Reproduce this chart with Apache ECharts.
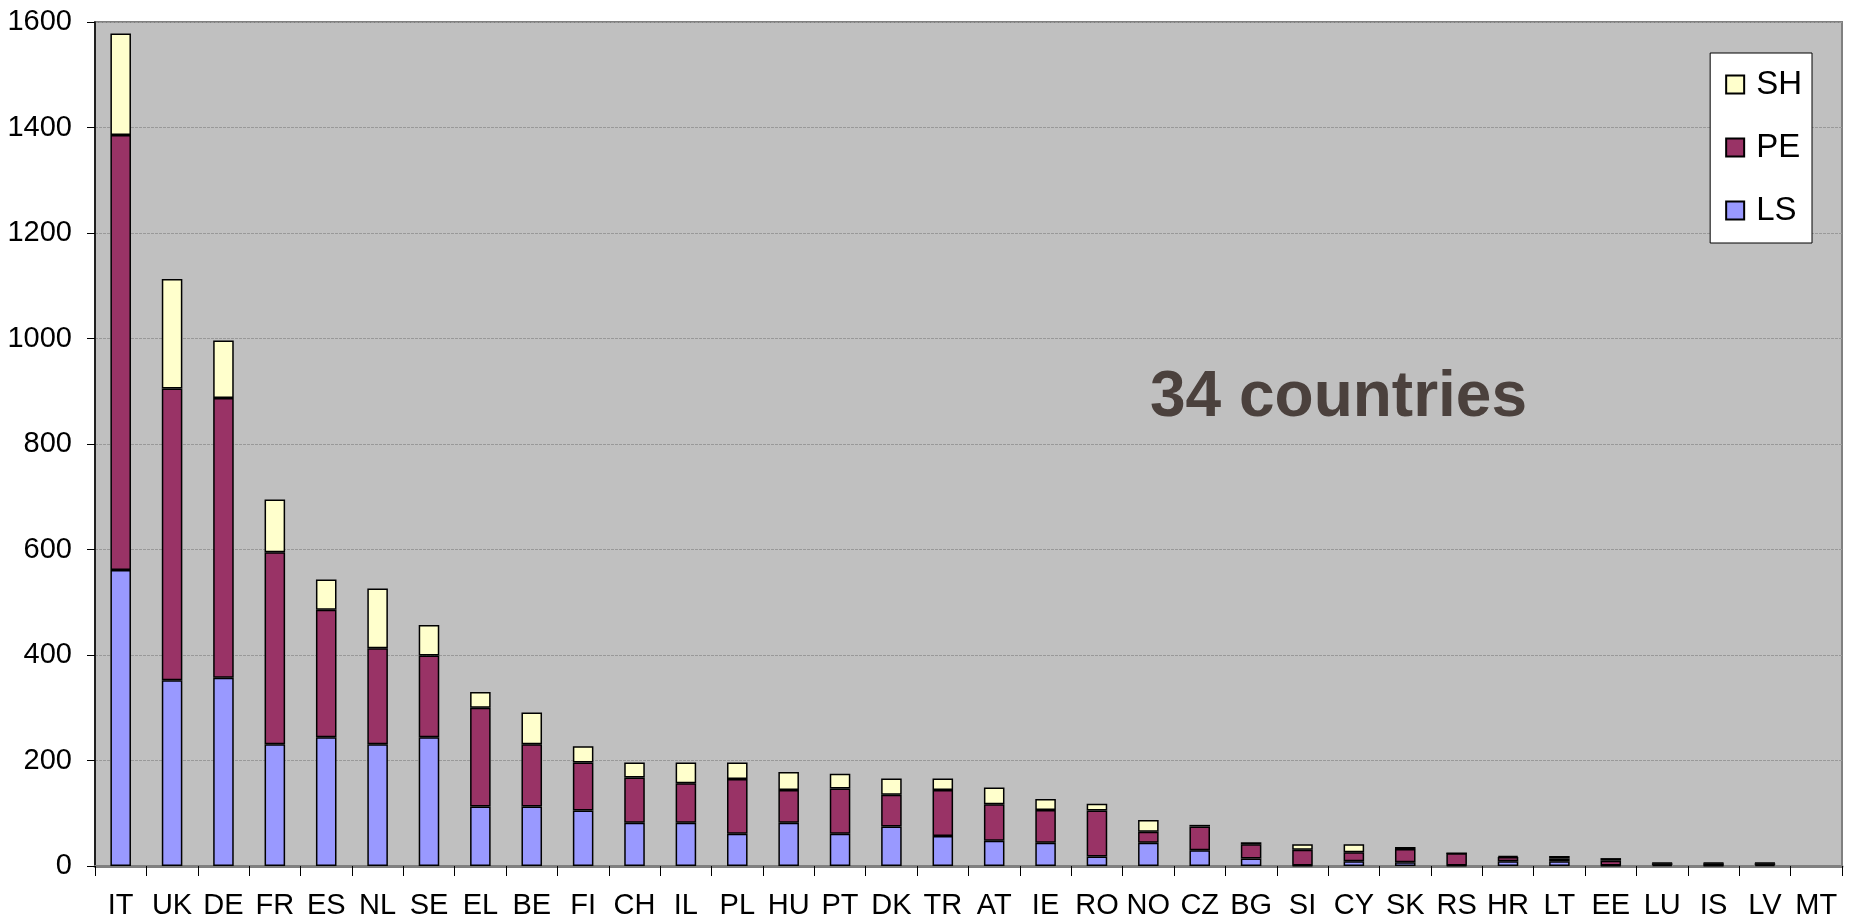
<!DOCTYPE html>
<html>
<head>
<meta charset="utf-8">
<title>LS / PE / SH by country</title>
<script src="https://cdn.jsdelivr.net/npm/echarts@6/dist/echarts.min.js"></script>
<style>
  html, body { margin: 0; padding: 0; background: #ffffff; }
  #chart { width: 1860px; height: 921px; }
</style>
</head>
<body>
<div id="chart"></div>
<script>
// Country codes along the horizontal axis
const countries = ['IT','UK','DE','FR','ES','NL','SE','EL','BE','FI','CH','IL','PL','HU','PT','DK','TR','AT','IE','RO','NO','CZ','BG','SI','CY','SK','RS','HR','LT','EE','LU','IS','LV','MT'];

// Stacked segments per country (bottom to top: LS, PE, SH); MT has no entries
const lsValues = [561,352,357,231,244,231,244,113,113,105,82,82,61,82,61,75,57,48,44,18,44,30,14,1,9,7,1,9,9,1,2,1,2,null];
const peValues = [825,553,530,364,242,182,155,187,118,91,86,75,104,62,86,60,87,69,62,87,21,45,27,30,17,25,23,8,5,9,3,4,3,null];
const shValues = [192,208,109,100,57,113,58,30,60,31,28,39,31,34,28,31,22,32,21,13,22,3,4,10,15,4,0,2,5,5,1,1,1,null];

// Value axis ticks
const yTicks = [0,200,400,600,800,1000,1200,1400,1600];

const annotation = '34 countries';

const chart = echarts.init(document.getElementById('chart'), null, { renderer: 'canvas' });

const font = 'Liberation Sans, Arial, sans-serif';

function barSeries(name, values, color) {
  return {
    name: name,
    type: 'bar',
    stack: 'total',
    barWidth: '40%',
    data: values,
    itemStyle: { color: color, borderColor: '#000000', borderWidth: 1.5 },
    emphasis: { disabled: true }
  };
}

chart.setOption({
  animation: false,
  backgroundColor: '#ffffff',
  grid: {
    left: 95, right: 18, top: 22, bottom: 55,
    show: true,
    backgroundColor: '#c0c0c0',
    borderColor: '#808080',
    borderWidth: 2
  },
  legend: {
    orient: 'vertical',
    right: 48, top: 53,
    data: ['SH','PE','LS'],
    icon: 'rect',
    backgroundColor: '#ffffff',
    borderColor: '#000000',
    borderWidth: 1,
    padding: [15, 10, 16, 15],
    itemWidth: 18, itemHeight: 18,
    itemGap: 30,
    textStyle: { fontFamily: font, fontSize: 33, color: '#000000', padding: [0, 0, 0, 7] }
  },
  xAxis: {
    type: 'category',
    data: countries,
    boundaryGap: true,
    axisLine: { show: true, lineStyle: { color: '#808080', width: 3 } },
    axisTick: { show: true, interval: 0, length: 10, lineStyle: { color: '#000000', width: 1 } },
    axisLabel: { interval: 0, margin: 25, fontFamily: font, fontSize: 29, color: '#000000' },
    splitLine: { show: false }
  },
  yAxis: {
    type: 'value',
    min: yTicks[0],
    max: yTicks[yTicks.length - 1],
    interval: yTicks[1] - yTicks[0],
    axisLine: { show: true, lineStyle: { color: '#000000', width: 1.5 } },
    axisTick: { show: true, length: 8, lineStyle: { color: '#000000', width: 1 } },
    axisLabel: {
      margin: 23, fontFamily: font, fontSize: 29, color: '#000000',
      formatter: function (v) { return String(v); }
    },
    splitLine: { show: true, lineStyle: { color: '#999999', width: 1, type: [3, 1] } }
  },
  graphic: [{
    type: 'text',
    left: 1150, top: 366,
    style: {
      text: annotation,
      fill: '#4b413d',
      font: 'bold 64px Liberation Sans, Arial, sans-serif'
    },
    z: 10
  }],
  series: [
    barSeries('LS', lsValues, '#9999ff'),
    barSeries('PE', peValues, '#993366'),
    barSeries('SH', shValues, '#ffffcc')
  ]
});
</script>
</body>
</html>
